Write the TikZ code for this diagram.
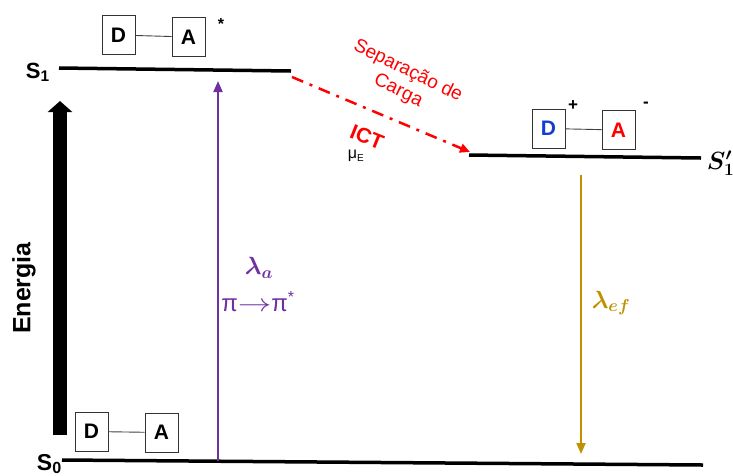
\documentclass[tikz,border=0pt]{standalone}
\usepackage{amsmath}
\usepackage{bm}
\usepackage{fontspec}
\setmainfont{Liberation Sans}
\usetikzlibrary{arrows.meta}
\definecolor{roxo}{RGB}{112,48,160}
\definecolor{ouro}{RGB}{191,144,0}
\definecolor{vermelho}{RGB}{255,0,0}
\definecolor{azul}{RGB}{20,60,210}
\tikzset{
  nivel/.style={line width=3.5pt},
  caixa/.style={draw=black!80,line width=0.9pt,minimum width=33pt,minimum height=39pt,inner sep=0pt,font=\fontsize{21}{24}\selectfont\bfseries},
  ligacao/.style={draw=black!75,line width=0.9pt},
  rotulo/.style={inner sep=0.75pt}
}
\begin{document}
\begin{tikzpicture}[x=1pt,y=1pt,yscale=-1,xscale=1]
\useasboundingbox (0,0) rectangle (733,475);
%Straight Lines (niveis)
\coordinate (s1a) at (59,68);
\coordinate (s1b) at (291,71);
\coordinate (s1la) at (469,155);
\coordinate (s1lb) at (701,158);
\coordinate (s0a) at (62,460);
\coordinate (s0b) at (703,465);
\draw [nivel] (s1a) -- (s1b);
\draw [nivel] (s1la) -- (s1lb);
\draw [nivel] (s0a) -- (s0b);
%Energy axis
\coordinate (ebase) at (60,435);
\coordinate (etopo) at (60,101);
\draw [line width=14pt,-{Triangle[width=24pt,length=11pt]}] (ebase) -- (etopo);
% Text Node
\node [rotulo,rotate=90,font=\fontsize{25}{28}\selectfont\bfseries] (energia) at (24,288) {Energia};
% Text Node
\node [rotulo,anchor=base west,font=\fontsize{22}{24}\selectfont\bfseries] (s1) at (25,78) {S$_{\textbf{1}}$};
% Text Node
\node [rotulo,anchor=base west,font=\fontsize{23}{24}\selectfont\bfseries] (s0) at (36,470) {S$_{\textbf{0}}$};
% Text Node
\node [rotulo,anchor=west,font=\fontsize{27}{28}\selectfont] (s1l) at (706,163) {$\bm{S'_1}$};
%Boxes D--A
\node [caixa] (d1) at (118.5,35) {D};
\node [caixa] (a1) at (188.5,37) {A};
\draw [ligacao] (d1) -- (a1);
\node [rotulo,font=\fontsize{16}{16}\selectfont\bfseries] (est1) at (221,24) {*};
\node [caixa] (d0) at (91.5,431.5) {D};
\node [caixa] (a0) at (161.5,432.5) {A};
\draw [ligacao] (d0) -- (a0);
\node [caixa,text=azul] (d2) at (548.5,128.5) {D};
\node [caixa,text=vermelho] (a2) at (618.5,130) {A};
\draw [ligacao] (d2) -- (a2);
\node [rotulo,font=\fontsize{17}{17}\selectfont\bfseries] (mais) at (573,106) {+};
\node [rotulo,font=\fontsize{17}{17}\selectfont\bfseries] (menos) at (646,105) {-};
%Absorption
\coordinate (absb) at (218,461);
\coordinate (abst) at (218,81);
\draw [roxo,line width=2pt,-{Triangle[width=9pt,length=11pt]}] (absb) -- (abst);
\node [rotulo,text=roxo,font=\fontsize{24}{24}\selectfont] (lama) at (259,268) {$\bm{\lambda_a}$};
\node [rotulo,text=roxo,font=\fontsize{24}{24}\selectfont] (pipi) at (258,302) {π\scalebox{1.35}[1]{$\rightarrow$}π$^{\text{\fontsize{16}{16}\selectfont *}}$};
%Emission
\coordinate (emit) at (581,175);
\coordinate (emib) at (581,454);
\draw [ouro,line width=2pt,-{Triangle[width=9pt,length=11pt]}] (emit) -- (emib);
\node [rotulo,text=ouro,font=\fontsize{24}{24}\selectfont] (lamef) at (611,303) {$\bm{\lambda_{ef}}$};
%ICT
\coordinate (icta) at (292,77);
\coordinate (ictb) at (470,152);
\draw [vermelho,line width=2.5pt,dash pattern=on 12pt off 7pt on 3pt off 7pt,-{Triangle[width=9pt,length=10pt]}] (icta) -- (ictb);
\node [rotulo,text=vermelho,rotate=-26,align=center,font=\fontsize{19}{22}\selectfont] (sepcarga) at (403,81) {Separação de\\Carga};
\node [rotulo,text=vermelho,rotate=-22,font=\fontsize{21}{21}\selectfont\bfseries] (ict) at (367,137) {ICT};
\node [rotulo,font=\fontsize{16}{16}\selectfont] (mue) at (356,156) {μ\textsubscript{\fontsize{10}{10}\selectfont E}};
\end{tikzpicture}
\end{document}
